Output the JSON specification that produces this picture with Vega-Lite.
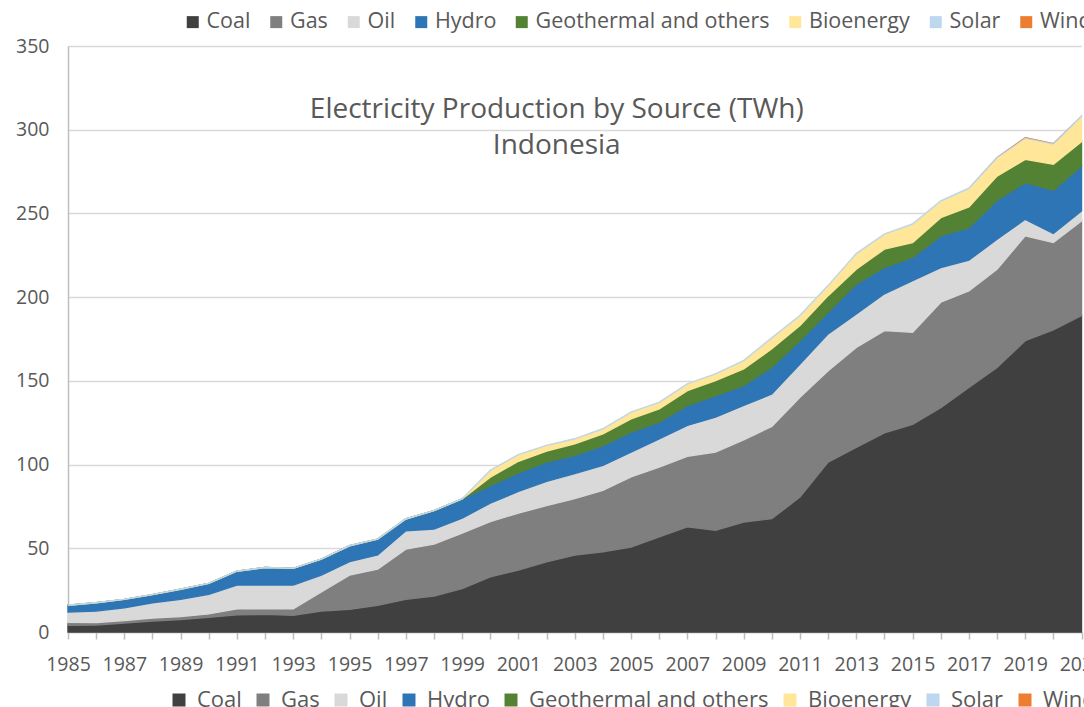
{
  "$schema": "https://vega.github.io/schema/vega-lite/v6.json",
  "width": 1013.5,
  "height": 586,
  "autosize": "none",
  "padding": {"left": 68, "top": 46, "right": 2.5, "bottom": 75},
  "background": "white",
  "title": {
    "text": ["Electricity Production by Source (TWh)", "Indonesia"],
    "anchor": "middle",
    "font": "Open Sans",
    "fontSize": 28,
    "fontWeight": "normal",
    "color": "#595959",
    "lineHeight": 36,
    "offset": -149,
    "dx": -18
  },
  "data": {"values": [
    {"year":1985,"source":"Coal","twh":4},{"year":1985,"source":"Gas","twh":1.8},{"year":1985,"source":"Oil","twh":6.2},{"year":1985,"source":"Hydro","twh":4},{"year":1985,"source":"Geothermal and others","twh":0},{"year":1985,"source":"Bioenergy","twh":0},{"year":1985,"source":"Solar","twh":0},
    {"year":1986,"source":"Coal","twh":4.2},{"year":1986,"source":"Gas","twh":1.5},{"year":1986,"source":"Oil","twh":6.8},{"year":1986,"source":"Hydro","twh":5},{"year":1986,"source":"Geothermal and others","twh":0},{"year":1986,"source":"Bioenergy","twh":0},{"year":1986,"source":"Solar","twh":0},
    {"year":1987,"source":"Coal","twh":5.4},{"year":1987,"source":"Gas","twh":1.4},{"year":1987,"source":"Oil","twh":7.7},{"year":1987,"source":"Hydro","twh":5},{"year":1987,"source":"Geothermal and others","twh":0},{"year":1987,"source":"Bioenergy","twh":0},{"year":1987,"source":"Solar","twh":0},
    {"year":1988,"source":"Coal","twh":6.6},{"year":1988,"source":"Gas","twh":1.8},{"year":1988,"source":"Oil","twh":9.1},{"year":1988,"source":"Hydro","twh":4.8},{"year":1988,"source":"Geothermal and others","twh":0},{"year":1988,"source":"Bioenergy","twh":0},{"year":1988,"source":"Solar","twh":0},
    {"year":1989,"source":"Coal","twh":7.5},{"year":1989,"source":"Gas","twh":1.8},{"year":1989,"source":"Oil","twh":10.2},{"year":1989,"source":"Hydro","twh":6},{"year":1989,"source":"Geothermal and others","twh":0},{"year":1989,"source":"Bioenergy","twh":0},{"year":1989,"source":"Solar","twh":0},
    {"year":1990,"source":"Coal","twh":8.8},{"year":1990,"source":"Gas","twh":2},{"year":1990,"source":"Oil","twh":11.7},{"year":1990,"source":"Hydro","twh":6.5},{"year":1990,"source":"Geothermal and others","twh":0},{"year":1990,"source":"Bioenergy","twh":0},{"year":1990,"source":"Solar","twh":0},
    {"year":1991,"source":"Coal","twh":10.2},{"year":1991,"source":"Gas","twh":3.6},{"year":1991,"source":"Oil","twh":14.2},{"year":1991,"source":"Hydro","twh":8.3},{"year":1991,"source":"Geothermal and others","twh":0},{"year":1991,"source":"Bioenergy","twh":0},{"year":1991,"source":"Solar","twh":0},
    {"year":1992,"source":"Coal","twh":10.5},{"year":1992,"source":"Gas","twh":3.3},{"year":1992,"source":"Oil","twh":14.2},{"year":1992,"source":"Hydro","twh":10.5},{"year":1992,"source":"Geothermal and others","twh":0},{"year":1992,"source":"Bioenergy","twh":0},{"year":1992,"source":"Solar","twh":0},
    {"year":1993,"source":"Coal","twh":10},{"year":1993,"source":"Gas","twh":3.8},{"year":1993,"source":"Oil","twh":14.2},{"year":1993,"source":"Hydro","twh":10},{"year":1993,"source":"Geothermal and others","twh":0},{"year":1993,"source":"Bioenergy","twh":0},{"year":1993,"source":"Solar","twh":0},
    {"year":1994,"source":"Coal","twh":12.5},{"year":1994,"source":"Gas","twh":11.5},{"year":1994,"source":"Oil","twh":10},{"year":1994,"source":"Hydro","twh":9.5},{"year":1994,"source":"Geothermal and others","twh":0},{"year":1994,"source":"Bioenergy","twh":0},{"year":1994,"source":"Solar","twh":0},
    {"year":1995,"source":"Coal","twh":13.5},{"year":1995,"source":"Gas","twh":20.5},{"year":1995,"source":"Oil","twh":8},{"year":1995,"source":"Hydro","twh":9.5},{"year":1995,"source":"Geothermal and others","twh":0},{"year":1995,"source":"Bioenergy","twh":0},{"year":1995,"source":"Solar","twh":0},
    {"year":1996,"source":"Coal","twh":16},{"year":1996,"source":"Gas","twh":21.5},{"year":1996,"source":"Oil","twh":8.5},{"year":1996,"source":"Hydro","twh":9.5},{"year":1996,"source":"Geothermal and others","twh":0},{"year":1996,"source":"Bioenergy","twh":0},{"year":1996,"source":"Solar","twh":0},
    {"year":1997,"source":"Coal","twh":19.5},{"year":1997,"source":"Gas","twh":30},{"year":1997,"source":"Oil","twh":11},{"year":1997,"source":"Hydro","twh":7},{"year":1997,"source":"Geothermal and others","twh":0},{"year":1997,"source":"Bioenergy","twh":0},{"year":1997,"source":"Solar","twh":0},
    {"year":1998,"source":"Coal","twh":21.5},{"year":1998,"source":"Gas","twh":31},{"year":1998,"source":"Oil","twh":9},{"year":1998,"source":"Hydro","twh":11},{"year":1998,"source":"Geothermal and others","twh":0},{"year":1998,"source":"Bioenergy","twh":0},{"year":1998,"source":"Solar","twh":0},
    {"year":1999,"source":"Coal","twh":26},{"year":1999,"source":"Gas","twh":33},{"year":1999,"source":"Oil","twh":9},{"year":1999,"source":"Hydro","twh":11.5},{"year":1999,"source":"Geothermal and others","twh":0},{"year":1999,"source":"Bioenergy","twh":0},{"year":1999,"source":"Solar","twh":0},
    {"year":2000,"source":"Coal","twh":33},{"year":2000,"source":"Gas","twh":33},{"year":2000,"source":"Oil","twh":11},{"year":2000,"source":"Hydro","twh":10.5},{"year":2000,"source":"Geothermal and others","twh":5},{"year":2000,"source":"Bioenergy","twh":4},{"year":2000,"source":"Solar","twh":0},
    {"year":2001,"source":"Coal","twh":37},{"year":2001,"source":"Gas","twh":34},{"year":2001,"source":"Oil","twh":13},{"year":2001,"source":"Hydro","twh":11},{"year":2001,"source":"Geothermal and others","twh":7},{"year":2001,"source":"Bioenergy","twh":4},{"year":2001,"source":"Solar","twh":0},
    {"year":2002,"source":"Coal","twh":41.9},{"year":2002,"source":"Gas","twh":33.6},{"year":2002,"source":"Oil","twh":14.5},{"year":2002,"source":"Hydro","twh":11.5},{"year":2002,"source":"Geothermal and others","twh":6.5},{"year":2002,"source":"Bioenergy","twh":3.5},{"year":2002,"source":"Solar","twh":0},
    {"year":2003,"source":"Coal","twh":45.9},{"year":2003,"source":"Gas","twh":33.8},{"year":2003,"source":"Oil","twh":14.9},{"year":2003,"source":"Hydro","twh":10.9},{"year":2003,"source":"Geothermal and others","twh":6.9},{"year":2003,"source":"Bioenergy","twh":3},{"year":2003,"source":"Solar","twh":0},
    {"year":2004,"source":"Coal","twh":47.9},{"year":2004,"source":"Gas","twh":36.7},{"year":2004,"source":"Oil","twh":14.9},{"year":2004,"source":"Hydro","twh":11.9},{"year":2004,"source":"Geothermal and others","twh":7},{"year":2004,"source":"Bioenergy","twh":3},{"year":2004,"source":"Solar","twh":0},
    {"year":2005,"source":"Coal","twh":50.8},{"year":2005,"source":"Gas","twh":41.8},{"year":2005,"source":"Oil","twh":14.9},{"year":2005,"source":"Hydro","twh":11.9},{"year":2005,"source":"Geothermal and others","twh":7.9},{"year":2005,"source":"Bioenergy","twh":4},{"year":2005,"source":"Solar","twh":0},
    {"year":2006,"source":"Coal","twh":56.8},{"year":2006,"source":"Gas","twh":41.7},{"year":2006,"source":"Oil","twh":16.9},{"year":2006,"source":"Hydro","twh":9.9},{"year":2006,"source":"Geothermal and others","twh":8},{"year":2006,"source":"Bioenergy","twh":3.9},{"year":2006,"source":"Solar","twh":0},
    {"year":2007,"source":"Coal","twh":62.8},{"year":2007,"source":"Gas","twh":42.1},{"year":2007,"source":"Oil","twh":18.5},{"year":2007,"source":"Hydro","twh":11.9},{"year":2007,"source":"Geothermal and others","twh":8.9},{"year":2007,"source":"Bioenergy","twh":4},{"year":2007,"source":"Solar","twh":0},
    {"year":2008,"source":"Coal","twh":60.8},{"year":2008,"source":"Gas","twh":46.7},{"year":2008,"source":"Oil","twh":20.8},{"year":2008,"source":"Hydro","twh":12.9},{"year":2008,"source":"Geothermal and others","twh":9},{"year":2008,"source":"Bioenergy","twh":4},{"year":2008,"source":"Solar","twh":0},
    {"year":2009,"source":"Coal","twh":65.7},{"year":2009,"source":"Gas","twh":49.1},{"year":2009,"source":"Oil","twh":20.5},{"year":2009,"source":"Hydro","twh":11.9},{"year":2009,"source":"Geothermal and others","twh":9.9},{"year":2009,"source":"Bioenergy","twh":5},{"year":2009,"source":"Solar","twh":0},
    {"year":2010,"source":"Coal","twh":67.7},{"year":2010,"source":"Gas","twh":55.1},{"year":2010,"source":"Oil","twh":19.4},{"year":2010,"source":"Hydro","twh":16},{"year":2010,"source":"Geothermal and others","twh":11},{"year":2010,"source":"Bioenergy","twh":6.5},{"year":2010,"source":"Solar","twh":0},
    {"year":2011,"source":"Coal","twh":80.6},{"year":2011,"source":"Gas","twh":59.6},{"year":2011,"source":"Oil","twh":19.9},{"year":2011,"source":"Hydro","twh":13.9},{"year":2011,"source":"Geothermal and others","twh":9},{"year":2011,"source":"Bioenergy","twh":6},{"year":2011,"source":"Solar","twh":0},
    {"year":2012,"source":"Coal","twh":101.5},{"year":2012,"source":"Gas","twh":54.6},{"year":2012,"source":"Oil","twh":22},{"year":2012,"source":"Hydro","twh":12.9},{"year":2012,"source":"Geothermal and others","twh":9.9},{"year":2012,"source":"Bioenergy","twh":6},{"year":2012,"source":"Solar","twh":0},
    {"year":2013,"source":"Coal","twh":110.3},{"year":2013,"source":"Gas","twh":59.7},{"year":2013,"source":"Oil","twh":20},{"year":2013,"source":"Hydro","twh":17.8},{"year":2013,"source":"Geothermal and others","twh":8.9},{"year":2013,"source":"Bioenergy","twh":9.3},{"year":2013,"source":"Solar","twh":0},
    {"year":2014,"source":"Coal","twh":119},{"year":2014,"source":"Gas","twh":61},{"year":2014,"source":"Oil","twh":22},{"year":2014,"source":"Hydro","twh":15.7},{"year":2014,"source":"Geothermal and others","twh":11},{"year":2014,"source":"Bioenergy","twh":8.9},{"year":2014,"source":"Solar","twh":0},
    {"year":2015,"source":"Coal","twh":124},{"year":2015,"source":"Gas","twh":55},{"year":2015,"source":"Oil","twh":30.8},{"year":2015,"source":"Hydro","twh":13.9},{"year":2015,"source":"Geothermal and others","twh":8.9},{"year":2015,"source":"Bioenergy","twh":11},{"year":2015,"source":"Solar","twh":0.1},
    {"year":2016,"source":"Coal","twh":134},{"year":2016,"source":"Gas","twh":63},{"year":2016,"source":"Oil","twh":20.7},{"year":2016,"source":"Hydro","twh":18.9},{"year":2016,"source":"Geothermal and others","twh":10.9},{"year":2016,"source":"Bioenergy","twh":9.9},{"year":2016,"source":"Solar","twh":0.1},
    {"year":2017,"source":"Coal","twh":146},{"year":2017,"source":"Gas","twh":57.8},{"year":2017,"source":"Oil","twh":18.3},{"year":2017,"source":"Hydro","twh":19.4},{"year":2017,"source":"Geothermal and others","twh":12.4},{"year":2017,"source":"Bioenergy","twh":11.1},{"year":2017,"source":"Solar","twh":0.1},
    {"year":2018,"source":"Coal","twh":158},{"year":2018,"source":"Gas","twh":58.7},{"year":2018,"source":"Oil","twh":17.9},{"year":2018,"source":"Hydro","twh":23.3},{"year":2018,"source":"Geothermal and others","twh":14.4},{"year":2018,"source":"Bioenergy","twh":11},{"year":2018,"source":"Solar","twh":0.2},{"year":2018,"source":"Wind","twh":0.2},
    {"year":2019,"source":"Coal","twh":174},{"year":2019,"source":"Gas","twh":62.6},{"year":2019,"source":"Oil","twh":9.9},{"year":2019,"source":"Hydro","twh":21.9},{"year":2019,"source":"Geothermal and others","twh":13.9},{"year":2019,"source":"Bioenergy","twh":12.7},{"year":2019,"source":"Solar","twh":0.2},{"year":2019,"source":"Wind","twh":0.5},
    {"year":2020,"source":"Coal","twh":180.5},{"year":2020,"source":"Gas","twh":52.1},{"year":2020,"source":"Oil","twh":5.4},{"year":2020,"source":"Hydro","twh":25.8},{"year":2020,"source":"Geothermal and others","twh":15.5},{"year":2020,"source":"Bioenergy","twh":12.2},{"year":2020,"source":"Solar","twh":0.2},{"year":2020,"source":"Wind","twh":0.4},
    {"year":2021,"source":"Coal","twh":189},{"year":2021,"source":"Gas","twh":56.5},{"year":2021,"source":"Oil","twh":6},{"year":2021,"source":"Hydro","twh":26.8},{"year":2021,"source":"Geothermal and others","twh":14.5},{"year":2021,"source":"Bioenergy","twh":15.2},{"year":2021,"source":"Solar","twh":0.3}
  ]},
  "transform": [
    {"calculate": "indexof(['Coal','Gas','Oil','Hydro','Geothermal and others','Bioenergy','Solar','Wind'], datum.source)", "as": "stack_rank"}
  ],
  "mark": {"type": "area", "interpolate": "linear"},
  "encoding": {
    "x": {
      "field": "year", "type": "quantitative",
      "scale": {"domain": [1985, 2021], "nice": false, "zero": false},
      "axis": {
        "title": null,
        "values": [1985,1986,1987,1988,1989,1990,1991,1992,1993,1994,1995,1996,1997,1998,1999,2000,2001,2002,2003,2004,2005,2006,2007,2008,2009,2010,2011,2012,2013,2014,2015,2016,2017,2018,2019,2020,2021],
        "format": "d",
        "labelExpr": "datum.value % 2 == 1 ? datum.label : ''",
        "grid": false,
        "domainColor": "#bfbfbf", "domainWidth": 1.5,
        "tickColor": "#bfbfbf", "tickSize": 7, "tickWidth": 1.5,
        "labelFont": "Open Sans", "labelFontSize": 19.5, "labelColor": "#595959",
        "labelPadding": 16, "labelOverlap": false, "labelBound": false, "labelFlush": false
      }
    },
    "y": {
      "field": "twh", "type": "quantitative", "stack": "zero",
      "scale": {"domain": [0, 350], "nice": false},
      "axis": {
        "title": null,
        "values": [0,50,100,150,200,250,300,350],
        "grid": true, "gridColor": "#d9d9d9", "gridWidth": 1.5,
        "domain": true, "domainColor": "#bfbfbf", "domainWidth": 1.5,
        "ticks": false, "labelPadding": 19,
        "labelFont": "Open Sans", "labelFontSize": 19.5, "labelColor": "#595959"
      }
    },
    "order": {"field": "stack_rank", "type": "quantitative", "sort": "ascending"},
    "strokeWidth": {"condition": {"test": "datum.source === 'Wind'", "value": 0}, "value": 1.4},
    "fill": {
      "field": "source", "type": "nominal",
      "sort": ["Coal","Gas","Oil","Hydro","Geothermal and others","Bioenergy","Solar","Wind"],
      "scale": {"range": ["#404040","#7f7f7f","#d9d9d9","#2e75b6","#548235","#ffe699","#bdd7ee","#ed7d31"]},
      "legend": {
        "orient": "none", "legendX": 114, "legendY": -35,
        "direction": "horizontal", "columns": 8, "title": null,
        "symbolType": "square", "symbolSize": 144, "symbolStrokeWidth": 0,
        "labelFont": "Open Sans", "labelFontSize": 21.5, "labelColor": "#595959",
        "labelOffset": 3, "columnPadding": 14.5, "labelLimit": 400
      }
    },
    "stroke": {
      "field": "source", "type": "nominal",
      "sort": ["Coal","Gas","Oil","Hydro","Geothermal and others","Bioenergy","Solar","Wind"],
      "scale": {"range": ["#404040","#7f7f7f","#d9d9d9","#2e75b6","#548235","#ffe699","#bdd7ee","#ed7d31"]},
      "legend": {
        "orient": "bottom", "direction": "horizontal", "columns": 8, "title": null,
        "padding": 100, "offset": -85,
        "symbolType": "square", "symbolSize": 36, "symbolStrokeWidth": 7,
        "labelFont": "Open Sans", "labelFontSize": 22, "labelColor": "#595959",
        "labelOffset": 7, "columnPadding": 4, "labelLimit": 400
      }
    }
  },
  "config": {"view": {"stroke": null}}
}
